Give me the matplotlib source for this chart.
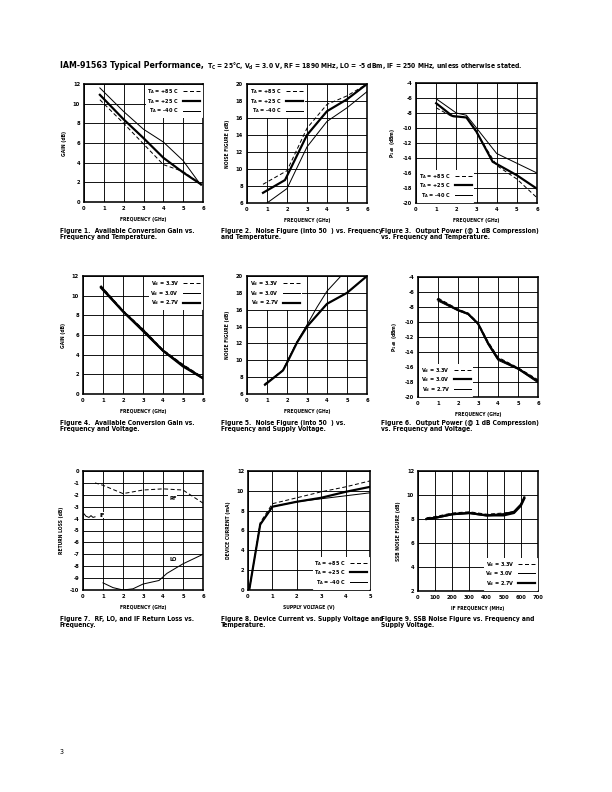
import numpy as np
import matplotlib
matplotlib.use("Agg")
import matplotlib.pyplot as plt
from matplotlib.lines import Line2D

plt.rcParams['font.family'] = ['DejaVu Sans']
plt.rcParams['font.stretch'] = 'condensed'
plt.rcParams['font.weight'] = 'bold'
plt.rcParams['mathtext.default'] = 'regular'
plt.rcParams['axes.unicode_minus'] = False

# ---- data ----
# Fig 1: gain vs frequency, temperature
f1_85_x = [0.8, 2, 3, 4, 5, 5.9]
f1_85_y = [10.4, 8.0, 5.9, 3.8, 3.1, 1.8]
f1_25_x = [0.8, 2, 3, 4, 5, 5.9]
f1_25_y = [10.9, 8.4, 6.5, 4.5, 3.0, 1.8]
f1_m40_x = [0.8, 2, 3, 4, 5, 5.9]
f1_m40_y = [11.6, 9.2, 7.4, 6.1, 4.2, 1.7]

# Fig 2: noise figure vs frequency, temperature
f2_85_x = [0.8, 2, 3, 4, 5, 6]
f2_85_y = [8.2, 9.8, 14.8, 17.6, 18.6, 20.0]
f2_25_x = [0.8, 1.9, 3, 4, 5, 6]
f2_25_y = [7.2, 8.7, 14.0, 16.8, 18.2, 20.0]
f2_m40_x = [1, 2, 3, 4, 5, 6]
f2_m40_y = [6.0, 7.7, 12.6, 15.6, 17.2, 19.1]

# Fig 3: P1dB vs frequency, temperature
f3_85_x = [1, 1.8, 2.5, 3, 4, 5, 6]
f3_85_y = [-7.3, -8.5, -8.5, -10.6, -15.0, -16.8, -19.3]
f3_25_x = [1, 1.8, 2.5, 3, 3.8, 5, 6]
f3_25_y = [-6.7, -8.4, -8.6, -10.5, -14.5, -16.3, -18.1]
f3_m40_x = [1, 2, 2.5, 3, 4, 5, 6]
f3_m40_y = [-6.1, -8.0, -8.3, -10.0, -13.4, -14.7, -16.0]

# Fig 4: gain vs frequency, voltage
f4_x = [0.9, 2, 3, 4, 5, 6]
f4_33 = [11.0, 8.5, 6.6, 4.5, 3.0, 1.7]
f4_30 = [10.9, 8.4, 6.5, 4.4, 2.9, 1.6]
f4_27 = [10.8, 8.4, 6.4, 4.4, 2.8, 1.6]

# Fig 5: noise figure vs frequency, voltage
f5_33_x = [0.9, 1.8, 2, 2.5, 3, 4, 5, 6]
f5_33_y = [7.2, 8.8, 9.8, 12.2, 14.0, 16.7, 18.0, 20.0]
f5_30_x = [0.9, 1.8, 2, 2.5, 3, 3.5, 4, 4.7]
f5_30_y = [7.2, 8.8, 9.8, 12.2, 14.2, 16.3, 18.2, 20.0]
f5_27_x = [0.9, 1.8, 2, 2.5, 3, 4, 5, 6]
f5_27_y = [7.1, 8.8, 9.7, 12.1, 14.0, 16.7, 18.0, 20.0]

# Fig 6: P1dB vs frequency, voltage
f6_x = [1, 2, 2.5, 3, 3.5, 4, 5, 6]
f6_33 = [-6.8, -8.3, -8.8, -10.1, -12.6, -14.7, -16.1, -17.7]
f6_30 = [-7.0, -8.4, -8.9, -10.2, -12.8, -14.9, -16.2, -17.9]
f6_27 = [-7.2, -8.5, -9.0, -10.3, -13.0, -15.1, -16.3, -18.1]

# Fig 7: return loss
f7_rf_x = [0.6, 1, 2, 3, 4, 5, 6]
f7_rf_y = [-1.0, -1.2, -1.9, -1.6, -1.5, -1.6, -2.7]
f7_if_x = [0, 0.15, 0.3, 0.4, 0.5, 0.6]
f7_if_y = [-3.5, -3.8, -3.9, -3.75, -3.9, -3.85]
f7_lo_x = [1, 1.5, 2, 2.5, 3, 3.8, 4.2, 5, 6]
f7_lo_y = [-9.4, -9.8, -10.0, -9.9, -9.5, -9.2, -8.6, -7.8, -7.0]

# Fig 8: device current vs supply voltage
f8_x = [0.05, 0.5, 1, 2, 3, 4, 5]
f8_85 = [0, 6.8, 8.7, 9.3, 9.9, 10.4, 11.0]
f8_25 = [0, 6.6, 8.4, 8.9, 9.3, 9.9, 10.4]
f8_m40 = [0, 6.6, 8.4, 8.9, 9.2, 9.5, 9.8]

# Fig 9: SSB noise figure vs IF frequency
f9_x = [50, 100, 200, 300, 400, 500, 560, 600, 620]
f9_33 = [8.1, 8.2, 8.5, 8.6, 8.4, 8.5, 8.6, 9.2, 9.8]
f9_30 = [8.0, 8.1, 8.4, 8.5, 8.3, 8.4, 8.6, 9.2, 9.8]
f9_27 = [8.0, 8.1, 8.4, 8.5, 8.3, 8.3, 8.5, 9.1, 9.7]

temp_labels = ['$T_A$ = +85 C', '$T_A$ = +25 C', '$T_A$ = -40 C']
volt_labels = ['$V_d$ = 3.3V', '$V_d$ = 3.0V', '$V_d$ = 2.7V']

W, H = 612, 792
fig = plt.figure(figsize=(W / 72, H / 72), dpi=72)


def make_ax(x0, y0, x1, y1, xlim, ylim, xticks, yticks, xlabel, ylabel):
    ax = fig.add_axes([x0 / W, 1 - y1 / H, (x1 - x0) / W, (y1 - y0) / H])
    ax.set_xlim(xlim)
    ax.set_ylim(ylim)
    ax.set_xticks(xticks)
    ax.set_yticks(yticks)
    ax.grid(True, color='black', linewidth=0.9)
    ax.tick_params(length=0, labelsize=5.8, pad=4)
    for lab in ax.get_xticklabels() + ax.get_yticklabels():
        lab.set_fontweight('bold')
    for s in ax.spines.values():
        s.set_linewidth(1.6)
    ax.set_xlabel(xlabel, fontsize=5, fontweight='bold', labelpad=6)
    ax.set_ylabel(ylabel, fontsize=5, fontweight='bold', labelpad=6)
    return ax


def add_legend(ax, handles, labels, loc):
    lg = ax.legend(handles, labels, loc=loc, markerfirst=False, fontsize=5.5,
                   frameon=True, fancybox=False, framealpha=1, edgecolor='white',
                   handlelength=3.0, borderpad=0.3, labelspacing=0.15, handletextpad=0.8,
                   borderaxespad=0.25)
    for t in lg.get_texts():
        t.set_fontweight('bold')
    lg.set_zorder(5)


dash = dict(color='black', linewidth=1.0, linestyle=(0, (4, 2.5)))
thick = dict(color='black', linewidth=2.2)
thin = dict(color='black', linewidth=1.0)
h_dash = Line2D([], [], **dash)
h_thick = Line2D([], [], **thick)
h_thin = Line2D([], [], **thin)

freq_ticks = [0, 1, 2, 3, 4, 5, 6]

# Figure 1
ax = make_ax(84, 84, 203, 202, (0, 6), (0, 12), freq_ticks, range(0, 13, 2),
             'FREQUENCY (GHz)', 'GAIN (dB)')
ax.plot(f1_85_x, f1_85_y, **dash)
ax.plot(f1_25_x, f1_25_y, **thick)
ax.plot(f1_m40_x, f1_m40_y, **thin)
add_legend(ax, [h_dash, h_thick, h_thin], temp_labels, 'upper right')

# Figure 2
ax = make_ax(247, 84, 367, 203, (0, 6), (6, 20), freq_ticks, range(6, 21, 2),
             'FREQUENCY (GHz)', 'NOISE FIGURE (dB)')
ax.plot(f2_85_x, f2_85_y, **dash)
ax.plot(f2_25_x, f2_25_y, **thick)
ax.plot(f2_m40_x, f2_m40_y, **thin)
add_legend(ax, [h_dash, h_thick, h_thin], temp_labels, 'upper left')

# Figure 3
ax = make_ax(416, 83, 537, 203, (0, 6), (-20, -4), freq_ticks, range(-20, -3, 2),
             'FREQUENCY (GHz)', '$P_{1\\ dB}$ (dBm)')
ax.plot(f3_85_x, f3_85_y, **dash)
ax.plot(f3_25_x, f3_25_y, **thick)
ax.plot(f3_m40_x, f3_m40_y, **thin)
add_legend(ax, [h_dash, h_thick, h_thin], temp_labels, 'lower left')

# Figure 4
ax = make_ax(83, 276, 203, 394, (0, 6), (0, 12), freq_ticks, range(0, 13, 2),
             'FREQUENCY (GHz)', 'GAIN (dB)')
ax.plot(f4_x, f4_33, **dash)
ax.plot(f4_x, f4_30, **thick)
ax.plot(f4_x, f4_27, **thick)
add_legend(ax, [h_dash, h_thin, h_thick], volt_labels, 'upper right')

# Figure 5
ax = make_ax(247, 276, 367, 394, (0, 6), (6, 20), freq_ticks, range(6, 21, 2),
             'FREQUENCY (GHz)', 'NOISE FIGURE (dB)')
ax.plot(f5_33_x, f5_33_y, **dash)
ax.plot(f5_30_x, f5_30_y, **thin)
ax.plot(f5_27_x, f5_27_y, **thick)
add_legend(ax, [h_dash, h_thin, h_thick], volt_labels, 'upper left')

# Figure 6
ax = make_ax(418, 277, 538, 397, (0, 6), (-20, -4), freq_ticks, range(-20, -3, 2),
             'FREQUENCY (GHz)', '$P_{1\\ dB}$ (dBm)')
ax.plot(f6_x, f6_33, **dash)
ax.plot(f6_x, f6_30, **thick)
ax.plot(f6_x, f6_27, **thin)
add_legend(ax, [h_dash, h_thick, h_thin], volt_labels, 'lower left')

# Figure 7
ax = make_ax(83, 471, 203, 590, (0, 6), (-10, 0), freq_ticks, range(-10, 1, 1),
             'FREQUENCY (GHz)', 'RETURN LOSS (dB)')
ax.plot(f7_rf_x, f7_rf_y, **dash)
ax.plot(f7_if_x, f7_if_y, **thin)
ax.plot(f7_lo_x, f7_lo_y, **thin)
ax.text(4.3, -2.4, 'RF', fontsize=5.8, fontweight='bold',
        bbox=dict(facecolor='white', edgecolor='none', pad=0.5))
ax.text(0.85, -3.85, 'IF', fontsize=5.8, fontweight='bold',
        bbox=dict(facecolor='white', edgecolor='none', pad=0.5))
ax.text(4.3, -7.55, 'LO', fontsize=5.8, fontweight='bold',
        bbox=dict(facecolor='white', edgecolor='none', pad=0.5))

# Figure 8
ax = make_ax(248, 471, 370, 590, (0, 5), (0, 12), [0, 1, 2, 3, 4, 5], range(0, 13, 2),
             'SUPPLY VOLTAGE (V)', 'DEVICE CURRENT (mA)')
ax.plot(f8_x, f8_85, **dash)
ax.plot(f8_x, f8_25, **thick)
ax.plot(f8_x, f8_m40, **thin)
add_legend(ax, [h_dash, h_thick, h_thin], temp_labels, 'lower right')

# Figure 9
ax = make_ax(418, 471, 538, 591, (0, 700), (2, 12), range(0, 701, 100), range(2, 13, 2),
             'IF FREQUENCY (MHz)', 'SSB NOISE FIGURE (dB)')
ax.plot(f9_x, f9_33, **dash)
ax.plot(f9_x, f9_30, **thick)
ax.plot(f9_x, f9_27, **thick)
add_legend(ax, [h_dash, h_thin, h_thick], volt_labels, 'lower right')

# captions
captions = [
    (60, 228, 'Figure 1.  Available Conversion Gain vs.\nFrequency and Temperature.'),
    (221, 228, 'Figure 2.  Noise Figure (into 50  ) vs. Frequency\nand Temperature.'),
    (381, 228, 'Figure 3.  Output Power (@ 1 dB Compression)\nvs. Frequency and Temperature.'),
    (60, 420, 'Figure 4.  Available Conversion Gain vs.\nFrequency and Voltage.'),
    (221, 420, 'Figure 5.  Noise Figure (into 50  ) vs.\nFrequency and Supply Voltage.'),
    (381, 420, 'Figure 6.  Output Power (@ 1 dB Compression)\nvs. Frequency and Voltage.'),
    (60, 616, 'Figure 7.  RF, LO, and IF Return Loss vs.\nFrequency.'),
    (221, 616, 'Figure 8. Device Current vs. Supply Voltage and\nTemperature.'),
    (381, 616, 'Figure 9. SSB Noise Figure vs. Frequency and\nSupply Voltage.'),
]
for x, y, txt in captions:
    fig.text(x / W, 1 - y / H, txt, fontsize=6.6, fontweight='bold', va='top',
             ha='left', linespacing=1.1)

# title
t1 = fig.text(60 / W, 1 - 66 / H, 'IAM-91563 Typical Performance,', fontsize=8.8,
              fontweight='bold', va='center', ha='left')
fig.canvas.draw()
bb = t1.get_window_extent()
fig.text(bb.x1 / W + 3 / W, 1 - 66 / H,
         '$T_C$ = 25\u00b0C, $V_d$ = 3.0 V, RF = 1890 MHz, LO = -5 dBm, IF = 250 MHz, unless otherwise stated.',
         fontsize=6.8, fontweight='bold', va='center', ha='left')

fig.text(60 / W, 1 - 752 / H, '3', fontsize=7, va='center', ha='left', fontweight='normal')

fig.savefig('out.png', dpi=72)
